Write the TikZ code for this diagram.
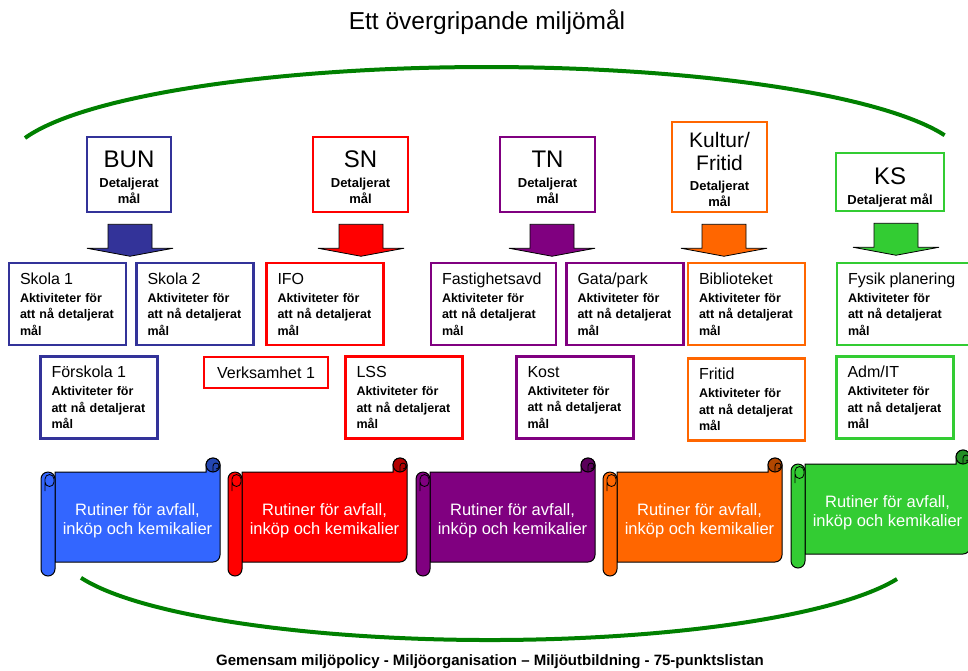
\documentclass[tikz,border=0pt]{standalone}
\usepackage{fontspec}
\setmainfont{Liberation Sans}
\usetikzlibrary{positioning, calc}

\definecolor{bunblue}{RGB}{51,51,153}
\definecolor{snred}{RGB}{255,0,0}
\definecolor{tnpurple}{RGB}{128,0,128}
\definecolor{kforange}{RGB}{255,102,0}
\definecolor{ksgreen}{RGB}{51,204,51}
\definecolor{scrollblue}{RGB}{51,102,255}
\definecolor{arcgreen}{RGB}{0,128,0}

\newcommand{\aktiv}[1]{{\mdseries\fontsize{16}{16.5}\selectfont #1}\\[1.5pt]Aktiviteter för\\att nå detaljerat\\mål}

\tikzset{
  head/.style={rectangle, draw=#1, line width=2.5pt, align=center, inner sep=0pt,
    font=\fontsize{13}{16}\selectfont\bfseries},
  act/.style={rectangle, draw=#1, line width=2.5pt, align=left, text width=95pt,
    inner xsep=11pt, inner ysep=0pt, minimum height=82pt,
    font=\fontsize{12.5}{16.5}\selectfont\bfseries},
  blockarr/.style={draw=black, line width=0.8pt},
  bigarc/.style={draw=arcgreen, line width=4pt},
  pics/rutin/.style={code={
    % body of the scroll
    \filldraw[fill=#1, line width=1pt] (14,14) -- (165,14) -- (165,7)
      arc[start angle=180, end angle=360, radius=7] -- (179,97)
      arc[start angle=0, end angle=90, radius=7] -- (14,104) -- cycle;
    % curl at the top right
    \filldraw[fill=#1!70!black, line width=1pt] (172,7) circle[radius=7];
    \draw[line width=0.8pt] (172,14) -- (172,8) arc[start angle=180, end angle=450, radius=3];
    % roll at the left
    \filldraw[fill=#1, line width=1pt] (0,21) arc[start angle=180, end angle=360, radius=7]
      -- (14,111) arc[start angle=0, end angle=180, radius=7] -- cycle;
    \draw[line width=0.8pt] (4,33) -- (4,21) arc[start angle=180, end angle=360, radius=4.5]
      -- (13,24) arc[start angle=0, end angle=180, radius=4.5];
    \node[text=white, align=center, font=\fontsize{16.5}{19}\selectfont] (-txt) at (96.5,63)
      {Rutiner för avfall,\\inköp och kemikalier};
  }}
}

\begin{document}
\begin{tikzpicture}[x=1pt, y=-1pt]

    \useasboundingbox (0,0) rectangle (968,670);

    \node[font=\fontsize{24.5}{27}\selectfont] (title) at (487,22) {Ett övergripande miljömål};

    % the two green arcs
    \draw[bigarc] (25,138) arc[start angle=195.8, end angle=342.5, x radius=480, y radius=97.5];
    \draw[bigarc] (81,577.8) arc[start angle=162, end angle=18.8, x radius=430, y radius=90];

    % the committees
    \node[head=bunblue,
    minimum width=84pt,
    minimum height=75pt] (bun) at (129,174.5)
    {{\mdseries\fontsize{24}{26}\selectfont\rule{0pt}{23pt}BUN}\\[4pt]Detaljerat\\mål};

    \node[head=snred,
    minimum width=95pt,
    minimum height=75pt] (sn) at (360.5,174.5)
    {{\mdseries\fontsize{24}{26}\selectfont\rule{0pt}{23pt}SN}\\[4pt]Detaljerat\\mål};

    \node[head=tnpurple,
    minimum width=95pt,
    minimum height=75pt] (tn) at (547.5,174.5)
    {{\mdseries\fontsize{24}{26}\selectfont\rule{0pt}{23pt}TN}\\[4pt]Detaljerat\\mål};

    \node[head=kforange,
    minimum width=95pt,
    minimum height=90pt] (kf) at (719.5,167)
    {{\mdseries\fontsize{21}{24}\selectfont\rule{0pt}{21pt}Kultur/}\\[7pt]{\mdseries\fontsize{21}{24}\selectfont Fritid}\\[4pt]Detaljerat\\mål};

    \node[head=ksgreen,
    minimum width=108pt,
    minimum height=58pt] (ks) at (890,182)
    {{\mdseries\fontsize{24}{26}\selectfont\rule{0pt}{27pt}KS}\\[4pt]Detaljerat mål};

    % block arrows under the committees
    \foreach \n/\c/\dx in {bun/bunblue/1, sn/snred/0.5, tn/tnpurple/4.5, kf/kforange/4.5, ks/ksgreen/6}
      \draw[blockarr, fill=\c] ($(\n.south)+(\dx-22,11)$) -- ++(44,0) -- ++(0,24)
        -- ++(21,0) -- ++(-43,8) -- ++(-43,-8) -- ++(21,0) -- cycle;

    % units, first row
    \node[act=bunblue] (skola1) at (67.5,304) {\aktiv{Skola 1}};
    \node[act=bunblue, right=8pt of skola1] (skola2) {\aktiv{Skola 2}};
    \node[act=snred] (ifo) at (325,304) {\aktiv{IFO}};
    \node[act=tnpurple, text width=103pt] (fast) at (493.5,304) {\aktiv{Fastighetsavd}};
    \node[act=tnpurple, right=8pt of fast] (gata) {\aktiv{Gata/park}};
    \node[act=kforange] (bibl) at (746.5,304) {\aktiv{Biblioteket}};
    \node[act=ksgreen, text width=112pt] (fysik) at (904,304) {\aktiv{Fysik planering}};

    % units, second row
    \node[act=bunblue] (forsk) at (99,397.5) {\aktiv{Förskola 1}};
    \node[rectangle, draw=snred, line width=2.5pt,
    minimum width=124pt,
    minimum height=31pt,
    font=\fontsize{16}{18}\selectfont] (verks) at (266,372.5) {Verksamhet 1};
    \node[act=snred] (lss) at (404,397.5) {\aktiv{LSS}};
    \node[act=tnpurple] (kost) at (575,397.5) {\aktiv{Kost}};
    \node[act=kforange, below=11pt of bibl] (fritid) {\aktiv{Fritid}};
    \node[act=ksgreen] (admit) at (895,397.5) {\aktiv{Adm/IT}};

    % routines
    \pic (rbun) at (41,458) {rutin=scrollblue};
    \pic (rsn) at (228,458) {rutin=snred};
    \pic (rtn) at (416,458) {rutin=tnpurple};
    \pic (rkf) at (603,458) {rutin=kforange};
    \pic (rks) at (791,450) {rutin=ksgreen};

    \node[font=\fontsize{15}{17}\selectfont\bfseries] (policy) at (490,662)
    {Gemensam miljöpolicy - Miljöorganisation – Miljöutbildning - 75-punktslistan};

\end{tikzpicture}
\end{document}
